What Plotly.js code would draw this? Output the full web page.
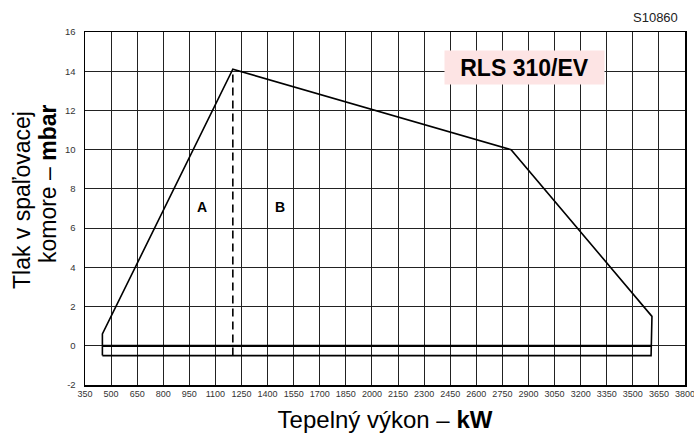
<!DOCTYPE html>
<html>
<head>
<meta charset="utf-8">
<script src="https://cdn.plot.ly/plotly-3.0.1.min.js"></script>
<style>
  html, body { margin: 0; padding: 0; background: #fff; }
  #container { width: 694px; height: 433px; }
</style>
</head>
<body>
<div id="container"></div>
<script>
// working field outline (kW, mbar)
var outlineX = [450, 450, 1200, 2800, 3610, 3605, 450];
var outlineY = [-0.5, 0.6, 14.1, 10, 1.5, -0.5, -0.5];

// zero pressure line inside the field
var zeroX = [450, 3605];
var zeroY = [0, 0];

// A / B divider
var dividerX = [1200, 1200];
var dividerY = [-0.5, 14.1];

var xTicks = [350, 500, 650, 800, 950, 1100, 1250, 1400, 1550, 1700, 1850, 2000,
              2150, 2300, 2450, 2600, 2750, 2900, 3050, 3200, 3350, 3500, 3650, 3800];
var yTicks = [-2, 0, 2, 4, 6, 8, 10, 12, 14, 16];

var fontFam = 'Arial, "Liberation Sans", sans-serif';

var outline = {
    x: outlineX,
    y: outlineY,
    mode: 'lines',
    type: 'scatter',
    line: {color: '#000', width: 1.6},
    hoverinfo: 'skip'
};

var zero = {
    x: zeroX,
    y: zeroY,
    mode: 'lines',
    type: 'scatter',
    line: {color: '#000', width: 2.2},
    hoverinfo: 'skip'
};

var divider = {
    x: dividerX,
    y: dividerY,
    mode: 'lines',
    type: 'scatter',
    line: {color: '#000', width: 1.6, dash: '8px,5px'},
    hoverinfo: 'skip'
};

var data = [outline, zero, divider];

var layout = {
    showlegend: false,
    width: 694,
    height: 433,
    margin: {l: 85, r: 9, t: 32, b: 48, pad: 0},
    plot_bgcolor: '#fff',
    paper_bgcolor: '#fff',
    font: {family: fontFam, color: '#000'},
    xaxis: {
        range: [350, 3800],
        tickmode: 'array',
        tickvals: xTicks,
        ticktext: xTicks.map(String),
        ticks: '',
        ticklabeloverflow: 'allow',
        tickfont: {size: 9, color: '#333'},
        showgrid: true,
        gridcolor: '#222',
        gridwidth: 1,
        zeroline: false,
        showline: true,
        linecolor: '#000',
        linewidth: 1.5,
        mirror: true,
        title: {
            text: 'Tepelný výkon – <b>kW</b>',
            font: {size: 24, color: '#000'},
            standoff: 14
        }
    },
    yaxis: {
        range: [-2, 16],
        tickmode: 'array',
        tickvals: yTicks,
        ticktext: yTicks.map(String),
        ticks: '',
        tickfont: {size: 9.5, color: '#333'},
        ticklabelstandoff: 6,
        showgrid: true,
        gridcolor: '#222',
        gridwidth: 1,
        zeroline: false,
        showline: true,
        linecolor: '#000',
        linewidth: 1.5,
        mirror: true
    },
    annotations: [
        {
            xref: 'paper', yref: 'paper', x: -0.105, y: 0.524,
            text: 'Tlak v spaľovacej', textangle: -90, showarrow: false,
            font: {size: 23, color: '#000'}, xanchor: 'center', yanchor: 'middle'
        },
        {
            xref: 'paper', yref: 'paper', x: -0.0617, y: 0.572,
            text: 'komore – <b>mbar</b>', textangle: -90, showarrow: false,
            font: {size: 23, color: '#000'}, xanchor: 'center', yanchor: 'middle'
        },
        {
            x: 1021, y: 7.1, text: '<b>A</b>', showarrow: false,
            font: {size: 14, color: '#000'}
        },
        {
            x: 1471, y: 7.1, text: '<b>B</b>', showarrow: false,
            font: {size: 14, color: '#000'}
        },
        {
            x: 2877, y: 14.2, text: '<b>RLS 310/EV</b>', showarrow: false,
            font: {size: 23, color: '#000'},
            bgcolor: '#fde4e4', width: 155, height: 29, borderpad: 2
        },
        {
            xref: 'paper', yref: 'paper', x: 0.992, y: 1.015,
            xanchor: 'right', yanchor: 'bottom',
            text: 'S10860', showarrow: false,
            font: {size: 13, color: '#222'}
        }
    ]
};

Plotly.newPlot('container', data, layout, {displayModeBar: false, staticPlot: true});
</script>
</body>
</html>
